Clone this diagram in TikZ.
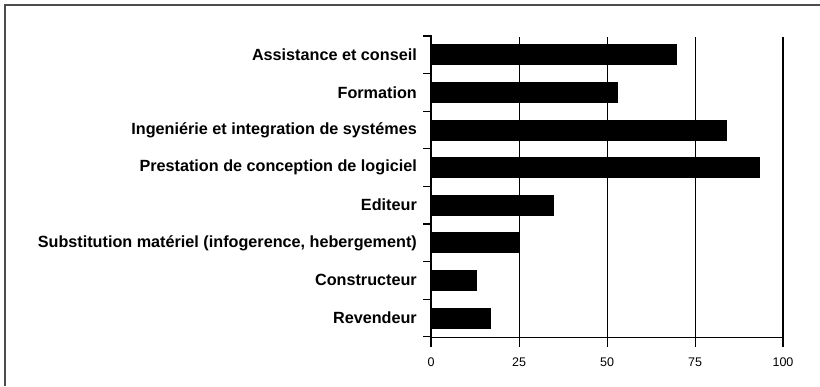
\documentclass[tikz,border=0pt]{standalone}
\usepackage{fontspec}
\setmainfont{Liberation Sans}
\begin{document}
\begin{tikzpicture}[x=1pt,y=-1pt,
  catlabel/.style={anchor=east, inner sep=0pt, font=\bfseries\fontsize{16.2}{18}\selectfont},
  ticklabel/.style={anchor=center, inner sep=0pt, font=\fontsize{12.5}{14}\selectfont},
  barbox/.style={fill=black, draw=none},
  gridline/.style={line width=1pt, black},
  axisline/.style={line width=1.7pt, black},
  frameline/.style={line width=1.5pt, black!70}]
\useasboundingbox (0,0) rectangle (820,386);
% frame (only top and left edges visible)
\draw[frameline] (5,386) -- (5,5) -- (820,5);
% grid lines
\foreach \v in {25,50,75} {
  \draw[gridline] ({431+3.52*\v},37) -- ({431+3.52*\v},347);
}
\draw[axisline] (783,37) -- (783,347);
% bars
\foreach \v [count=\i] in {70,53,84,93.5,35,25,13,17} {
  \fill[barbox] (431,{36+37.6*(\i-0.5)-10.5}) rectangle ({431+3.52*\v},{36+37.6*(\i-0.5)+10.5});
}
% axes
\draw[axisline] (431,35) -- (431,347);
\draw[line width=1.4pt] (431,337.5) -- (783,337.5);
\foreach \k in {0,...,8} {
  \draw[line width=1.2pt] (423,{36+37.6*\k}) -- (431,{36+37.6*\k});
}
% category labels
\foreach \t [count=\i] in {Assistance et conseil, Formation, Ingeniérie et integration de systémes, Prestation de conception de logiciel, Editeur, {Substitution matériel (infogerence, hebergement)}, Constructeur, Revendeur} {
  \node[catlabel] (lab\i) at (417,{36+37.6*(\i-0.5)}) {\t};
}
% tick labels
\foreach \v [count=\j] in {0,25,50,75,100} {
  \node[ticklabel] (tick\j) at ({431+3.52*\v},362) {\v};
}
\end{tikzpicture}
\end{document}
